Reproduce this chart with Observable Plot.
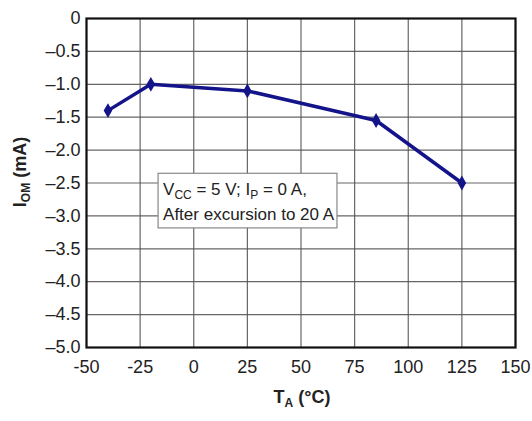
<!DOCTYPE html>
<html>
<head>
<meta charset="utf-8">
<script src="https://cdn.jsdelivr.net/npm/d3@7"></script>
<script src="https://cdn.jsdelivr.net/npm/@observablehq/plot@0.6"></script>
<style>
  html, body { margin: 0; padding: 0; background: #fff; }
  #chart { width: 532px; height: 421px; }
  svg { font-family: "Liberation Sans", Arial, sans-serif; }
</style>
</head>
<body>
<div id="chart"></div>
<script>
// Data
const temperatures = [-40, -20, 25, 85, 125];          // T_A (°C)
const currents = [-1.4, -1.0, -1.1, -1.55, -2.5];       // I_OM (mA)
const xTicks = [-50, -25, 0, 25, 50, 75, 100, 125, 150];
const yTicks = [0, -0.5, -1.0, -1.5, -2.0, -2.5, -3.0, -3.5, -4.0, -4.5, -5.0];
// Annotation box extent in data units
const noteX = [-16.4, 67];
const noteY = [-2.36, -3.19];

const data = temperatures.map((t, i) => ({t, i: currents[i]}));
const fmtY = v => v === 0 ? "0" : "\u2013" + Math.abs(v).toFixed(1);

const chart = Plot.plot({
  width: 532,
  height: 421,
  marginLeft: 86,
  marginRight: 17,
  marginTop: 18,
  marginBottom: 74,
  style: {fontSize: "18px", fontFamily: "Liberation Sans, Arial, sans-serif", color: "#222"},
  x: {domain: [-50, 150], label: null},
  y: {domain: [-5, 0], label: null},
  marks: [
    Plot.gridX(xTicks, {stroke: "#555", strokeOpacity: 0.9, strokeWidth: 1.2}),
    Plot.gridY(yTicks, {stroke: "#555", strokeOpacity: 0.9, strokeWidth: 1.2}),
    Plot.rect([{x1: noteX[0], x2: noteX[1], y1: noteY[0], y2: noteY[1]}],
      {x1: "x1", x2: "x2", y1: "y1", y2: "y2", fill: "white", stroke: "#888", strokeWidth: 1.2}),
    Plot.frame({stroke: "#111", strokeWidth: 2.2}),
    Plot.line(data, {x: "t", y: "i", stroke: "#14148a", strokeWidth: 3.5}),
    Plot.dot(data, {x: "t", y: "i", symbol: "diamond", r: 4.5, fill: "#14148a", stroke: "none"}),
    Plot.axisX({ticks: xTicks, tickFormat: d => String(d), tickSize: 0, tickPadding: 13, fontSize: 18, label: null}),
    Plot.axisY({ticks: yTicks, tickFormat: fmtY, tickSize: 0, tickPadding: 6, fontSize: 18, label: null})
  ]
});

document.getElementById("chart").appendChild(chart);

// Rich text (subscripts) added via SVG with Plot's scales
const svg = d3.select(chart);
const sx = chart.scale("x"), sy = chart.scale("y");
const noteLeft = sx.apply(noteX[0]) + 5;
const noteTop = sy.apply(noteY[0]);
const note = svg.append("text").attr("font-size", 17).attr("fill", "#222")
  .attr("text-anchor", "start")
  .attr("font-family", "Liberation Sans, Arial, sans-serif");
const l1 = note.append("tspan").attr("x", noteLeft).attr("y", noteTop + 22);
l1.append("tspan").text("V");
l1.append("tspan").attr("font-size", 12).attr("dy", 4).text("CC");
l1.append("tspan").attr("dy", -4).text(" = 5 V; I");
l1.append("tspan").attr("font-size", 12).attr("dy", 4).text("P");
l1.append("tspan").attr("dy", -4).text(" = 0 A,");
note.append("tspan").attr("x", noteLeft).attr("y", noteTop + 47).text("After excursion to 20 A");

// Axis labels
const xl = svg.append("text").attr("x", 302).attr("y", 403)
  .attr("text-anchor", "middle").attr("font-weight", "bold").attr("font-size", 18).attr("fill", "#222");
xl.append("tspan").text("T");
xl.append("tspan").attr("font-size", 12).attr("dy", 4).text("A");
xl.append("tspan").attr("dy", -4).text(" (°C)");

const yl = svg.append("text").attr("transform", `translate(26,172) rotate(-90)`)
  .attr("text-anchor", "middle").attr("font-weight", "bold").attr("font-size", 18).attr("fill", "#222");
yl.append("tspan").text("I");
yl.append("tspan").attr("font-size", 12).attr("dy", 4).text("OM");
yl.append("tspan").attr("dy", -4).text(" (mA)");
</script>
</body>
</html>
